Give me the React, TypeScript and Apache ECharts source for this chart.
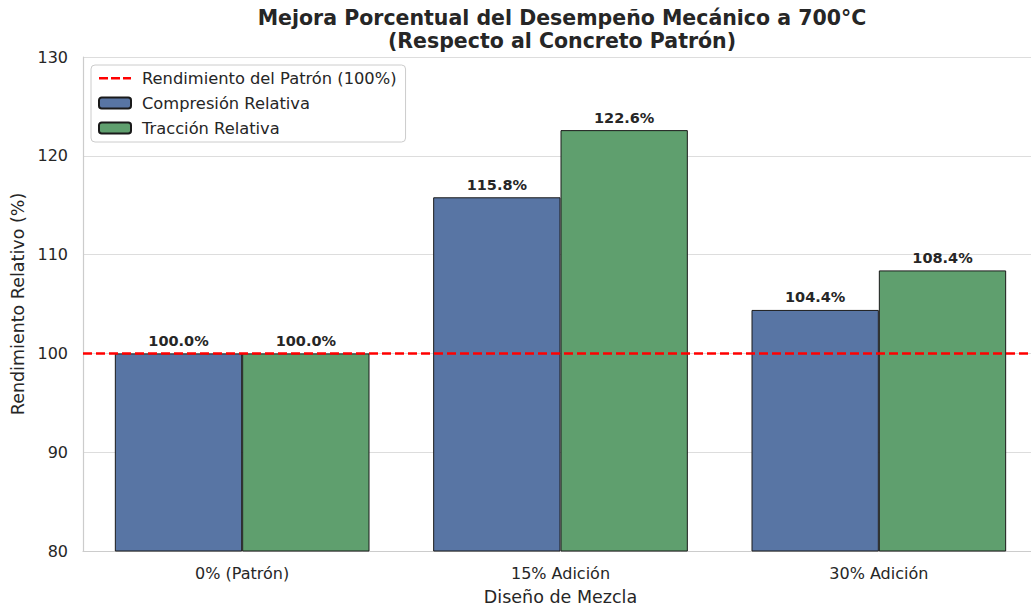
import React, { useEffect, useRef } from "react";
import * as echarts from "echarts";

const categories = ["0% (Patrón)", "15% Adición", "30% Adición"];
const compresion = [100.0, 115.8, 104.4];
const traccion = [100.0, 122.6, 108.4];
const yTicks = { min: 80, max: 130, interval: 10 };
const baseline = 100;

const FONT = "DejaVu Sans";
const TXT = "#262626";
const DASH_ICON = "path://M0,0h0.01v0.01h-0.01z M0,4.5h9v2.5h-9z M12,4.5h9v2.5h-9z M24,4.5h8v2.5h-8z M31.99,10.99h0.01v0.01h-0.01z";

export default function App() {
  const ref = useRef<HTMLDivElement>(null);
  useEffect(() => {
    document.body.style.margin = "0";
    const chart = echarts.init(ref.current!, null, { renderer: "svg" });
    const labelCfg = {
      show: true,
      position: "top",
      distance: 5,
      formatter: (p: any) => p.value.toFixed(1) + "%",
      fontFamily: FONT,
      fontWeight: "bold",
      fontSize: 14.5,
      color: TXT,
    };
    chart.setOption({
      animation: false,
      textStyle: { fontFamily: FONT },
      title: {
        text: "Mejora Porcentual del Desempeño Mecánico a 700°C\n(Respecto al Concreto Patrón)",
        left: 557,
        top: 1,
        textAlign: "center",
        textStyle: { fontFamily: FONT, fontWeight: "bold", fontSize: 20.5, lineHeight: 23, color: TXT },
      },
      legend: {
        orient: "vertical",
        left: 91,
        top: 65,
        data: [
          { name: "Rendimiento del Patrón (100%)", icon: DASH_ICON, itemStyle: { color: "#ff0000", borderWidth: 0 } },
          { name: "Compresión Relativa" },
          { name: "Tracción Relativa" },
        ],
        padding: [5, 9, 6, 7],
        itemGap: 9,
        itemWidth: 32,
        itemHeight: 11,
        itemTextGap: 13,
        backgroundColor: "rgba(255,255,255,0.85)",
        borderColor: "#cccccc",
        borderWidth: 1,
        borderRadius: 4,
        textStyle: { fontFamily: FONT, fontSize: 16.3, lineHeight: 16, color: TXT, padding: [0, 0, 0, 6] },
      },
      grid: { left: 83, top: 57, bottom: 55, width: 955, outerBoundsMode: "none", containLabel: false },
      xAxis: {
        type: "category",
        data: categories,
        name: "Diseño de Mezcla",
        nameLocation: "middle",
        nameGap: 37,
        nameTextStyle: { fontFamily: FONT, fontSize: 17.5, color: TXT },
        axisLine: { lineStyle: { color: "#cccccc", width: 1.2 } },
        axisTick: { show: false },
        axisLabel: { fontFamily: FONT, fontSize: 16, color: TXT, margin: 14 },
      },
      yAxis: {
        type: "value",
        min: yTicks.min,
        max: yTicks.max,
        interval: yTicks.interval,
        name: "Rendimiento Relativo (%)",
        nameLocation: "middle",
        nameGap: 54,
        nameTextStyle: { fontFamily: FONT, fontSize: 17.5, color: TXT },
        axisLine: { show: true, lineStyle: { color: "#cccccc", width: 1.2 } },
        axisTick: { show: false },
        axisLabel: { fontFamily: FONT, fontSize: 16, color: TXT, margin: 15 },
        splitLine: { lineStyle: { color: "#dddddd", width: 1.2 } },
      },
      series: [
        {
          name: "Rendimiento del Patrón (100%)",
          type: "line",
          data: [],
          symbol: "none",
          lineStyle: { color: "#ff0000", type: [9, 4], width: 2.5 },
          itemStyle: { color: "#ff0000" },
        },
        {
          name: "Compresión Relativa",
          type: "bar",
          data: compresion,
          barWidth: "40%",
          barGap: "0%",
          itemStyle: { color: "#5875a4", borderColor: "#1a1a1a", borderWidth: 1 },
          label: labelCfg,
          markLine: {
            silent: true,
            symbol: "none",
            label: { show: false },
            lineStyle: { color: "#ff0000", type: [9, 4], width: 2.5 },
            data: [{ yAxis: baseline }],
            z: 10,
          },
        },
        {
          name: "Tracción Relativa",
          type: "bar",
          data: traccion,
          barWidth: "40%",
          barGap: "0%",
          itemStyle: { color: "#5f9f6e", borderColor: "#1a1a1a", borderWidth: 1 },
          label: labelCfg,
        },
      ],
    });
    return () => chart.dispose();
  }, []);
  return <div ref={ref} style={{ width: 1031, height: 606 }} />;
}
